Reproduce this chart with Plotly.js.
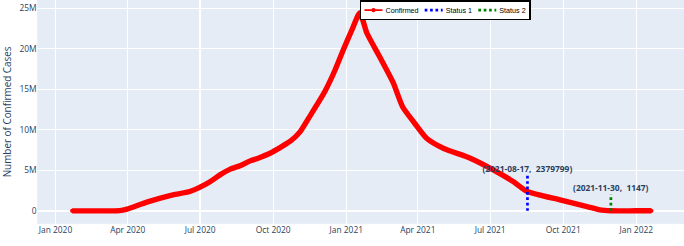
<!DOCTYPE html>
<html>
<head>
<meta charset="utf-8">
<script src="https://cdn.plot.ly/plotly-3.0.1.min.js"></script>
<style>
html,body{margin:0;padding:0;background:#fff;overflow:hidden;width:684px;height:246px}
#chart{width:1140px;height:410px;transform:scale(0.6);transform-origin:0 0}
</style>
</head>
<body>
<div id="chart"></div>
<script>
const dates = ['2020-01-22','2020-03-01','2020-03-22','2020-03-31','2020-04-25','2020-05-24','2020-06-18','2020-07-01','2020-07-14','2020-07-26','2020-08-08','2020-08-21','2020-09-02','2020-09-12','2020-09-27','2020-10-23','2020-11-04','2020-11-17','2020-11-29','2020-12-06','2020-12-18','2020-12-28','2021-01-08','2021-01-18','2021-01-27','2021-02-12','2021-03-01','2021-03-13','2021-03-28','2021-04-12','2021-05-03','2021-06-06','2021-07-05','2021-07-30','2021-08-17','2021-09-27','2021-10-31','2021-11-16','2021-11-30','2021-12-31','2022-01-20'];
const confirmed = [0,0,20000,210000,1070000,1880000,2380000,2920000,3610000,4430000,5140000,5580000,6160000,6490000,7100000,8620000,9770000,11800000,13700000,14900000,17400000,19800000,22300000,24400000,21900000,19000000,15800000,12800000,10800000,8950000,7720000,6490000,5050000,3610000,2379799,1350000,530000,120000,1147,1100,1050];
const statusNames = ['Status 1','Status 2'];
const statusDates = ['2021-08-17','2021-11-30'];
const statusValues = [2379799,1147];
const statusColors = ['blue','green'];
const lineExtra = 2000000;
const xTitle = 'Date';
const yTitle = 'Number of Confirmed Cases';

const traces = [
  {x: dates, y: confirmed, type:'scatter', mode:'lines+markers', name:'Confirmed',
   line:{color:'red', width:3, shape:'spline', smoothing:0.6}, marker:{color:'red', size:7}},
  {x: dates, y: confirmed, type:'scatter', mode:'lines', name:'Confirmed', showlegend:false,
   line:{color:'red', width:9, shape:'spline', smoothing:0.6}}
];
const annotations = [];
statusNames.forEach((n,i)=>{
  traces.push({x:[statusDates[i],statusDates[i]], y:[0, statusValues[i]+lineExtra], type:'scatter', mode:'lines', name:n,
    line:{color:statusColors[i], width:4.5, dash:'dot'}});
  annotations.push({x:statusDates[i], y:statusValues[i]+lineExtra, xref:'x', yref:'y', showarrow:false, yanchor:'bottom',
    text:'<b>('+statusDates[i]+',  '+statusValues[i]+')</b>', font:{size:14, color:'#2a3f5f'}});
});
annotations.push({text:xTitle, xref:'paper', yref:'paper', x:0.5, y:-0.092, yanchor:'top', showarrow:false,
  font:{size:16.5, color:'#2a3f5f'}});

const layout = {
  width:1140, height:410,
  margin:{l:62, r:0, t:0, b:37},
  paper_bgcolor:'#fff', plot_bgcolor:'#E5ECF6',
  font:{family:'"Open Sans", verdana, arial, sans-serif', color:'#2a3f5f'},
  xaxis:{type:'date', range:['2019-12-09','2022-03-02'], dtick:'M3', tick0:'2020-01-01', tickformat:'%b %Y',
    gridcolor:'white', gridwidth:1.5, tickfont:{size:14}, zeroline:false},
  yaxis:{range:[-1600000, 26000000], dtick:5000000, gridcolor:'white', gridwidth:1.5, zerolinecolor:'white', zerolinewidth:2.5,
    tickfont:{size:14}, title:{text:yTitle, font:{size:16.5}}},
  legend:{orientation:'h', x:0.499, xanchor:'left', y:1.0, yanchor:'top', bgcolor:'white', bordercolor:'black', borderwidth:2.5,
    font:{size:12, color:'black', family:'Arial, "Liberation Sans", sans-serif'}},
  annotations: annotations,
  showlegend:true
};
Plotly.newPlot('chart', traces, layout, {displayModeBar:false});
</script>
</body>
</html>
